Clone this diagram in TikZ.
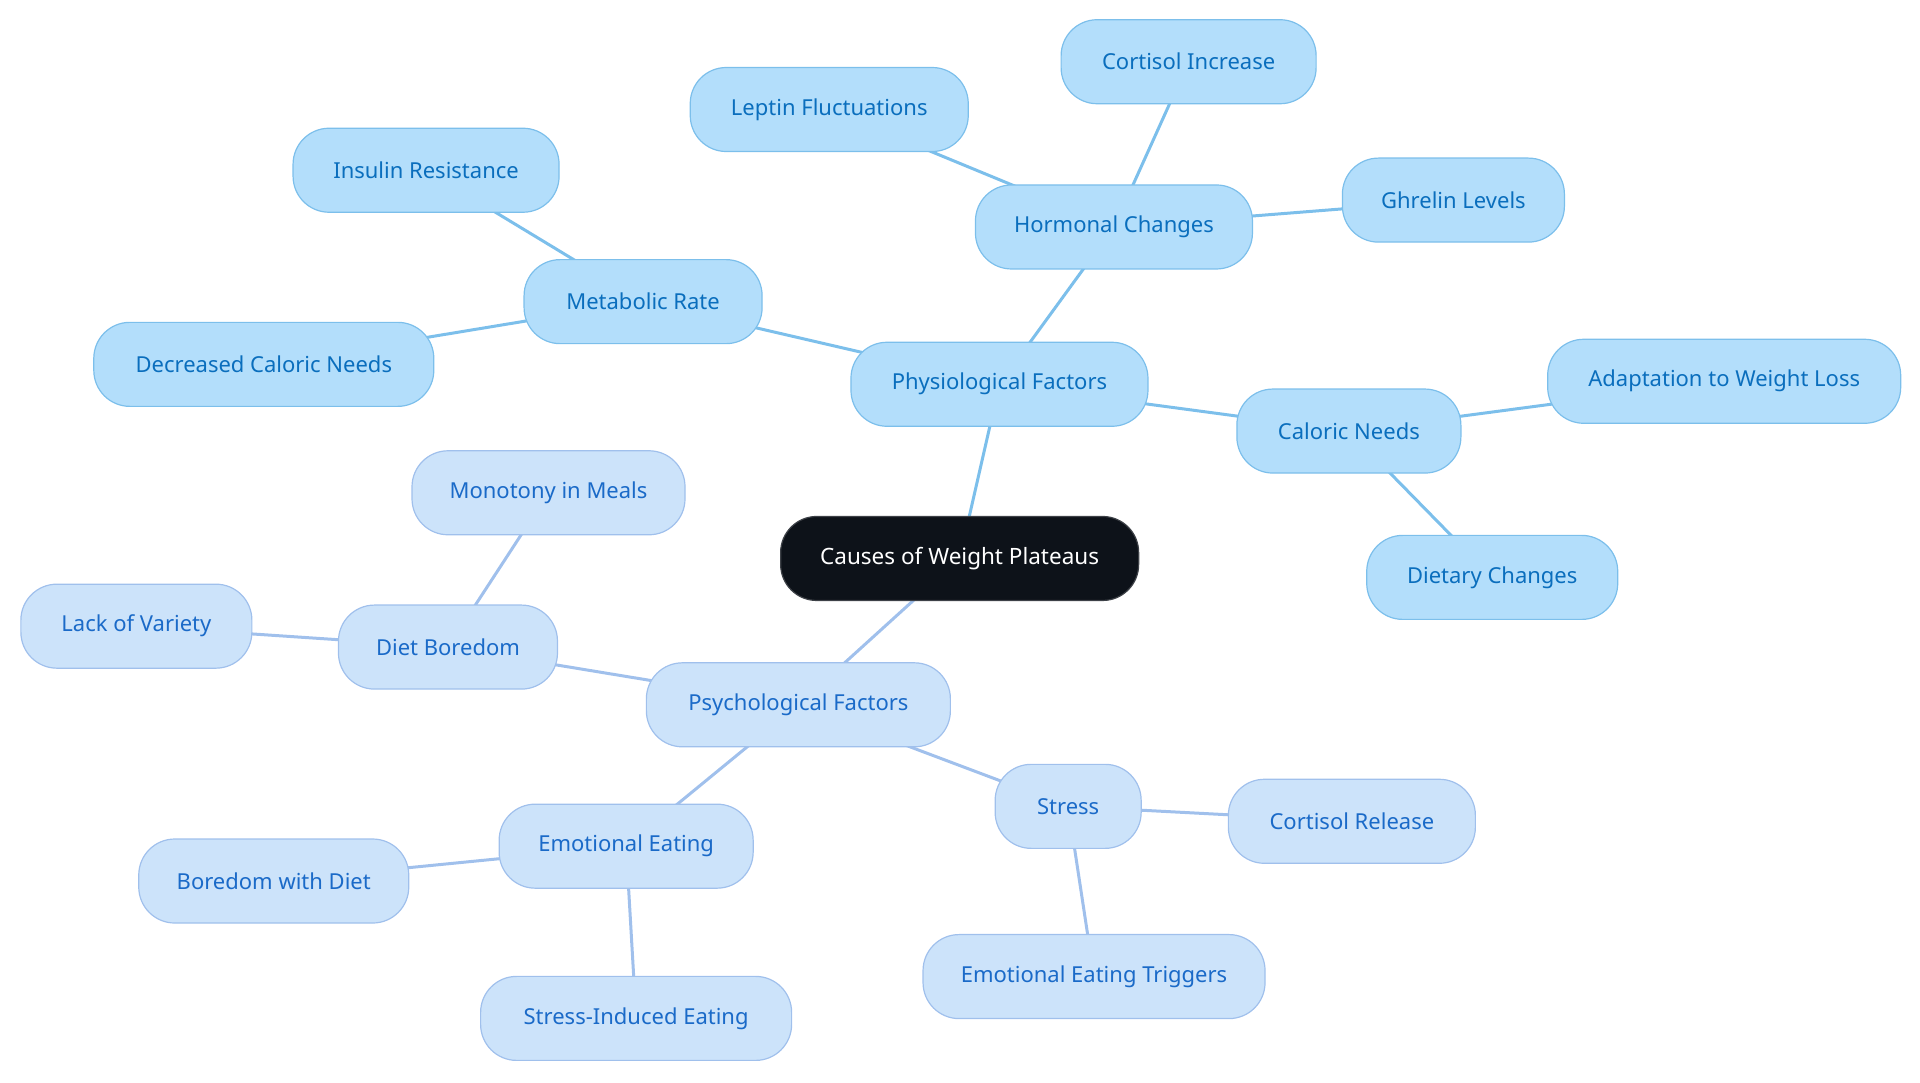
\documentclass[tikz,border=0pt]{standalone}
\usepackage{fontspec}
\setmainfont{Noto Sans}
\usetikzlibrary{backgrounds}
\definecolor{rootfill}{HTML}{0D1219}
\definecolor{phfill}{HTML}{B3DEFB}
\definecolor{phdraw}{HTML}{7CBFEB}
\definecolor{phtext}{HTML}{0A6EBD}
\definecolor{psfill}{HTML}{CCE3FA}
\definecolor{psdraw}{HTML}{A0C0EC}
\definecolor{pstext}{HTML}{1A6AC8}
\tikzset{
  box/.style={rounded corners=36pt, minimum height=84pt, inner xsep=6pt, line width=1.2pt, font=\fontsize{22}{26}\selectfont},
  rootbox/.style={box, fill=rootfill, draw=rootfill!80!white, text=white, font=\fontsize{22.5}{26}\selectfont},
  phbox/.style={box, fill=phfill, draw=phdraw, text=phtext},
  psbox/.style={box, fill=psfill, draw=psdraw, text=pstext},
  phline/.style={draw=phdraw, line width=3pt},
  psline/.style={draw=psdraw, line width=3pt},
}
\begin{document}
\begin{tikzpicture}[x=0.9955pt,y=-0.9955pt]
\useasboundingbox (0,0) rectangle (1928.7,1087.9);
\node[rootbox, minimum width=358pt] (root) at (964,561) {Causes of Weight Plateaus};
% physiological
\node[phbox, minimum width=297pt] (phys) at (1004,386) {Physiological Factors};
\node[phbox, minimum width=277pt] (horm) at (1119,228) {Hormonal Changes};
\node[phbox, minimum width=278pt] (lept) at (833,110) {Leptin Fluctuations};
\node[phbox, minimum width=255pt] (cort) at (1194,62) {Cortisol Increase};
\node[phbox, minimum width=222pt] (ghre) at (1460,201) {Ghrelin Levels};
\node[phbox, minimum width=238pt] (meta) at (646,303) {Metabolic Rate};
\node[phbox, minimum width=266pt] (insu) at (428,171) {Insulin Resistance};
\node[phbox, minimum width=340pt] (decr) at (265,366) {Decreased Caloric Needs};
\node[phbox, minimum width=224pt] (calo) at (1355,433) {Caloric Needs};
\node[phbox, minimum width=353pt] (adap) at (1732,383) {Adaptation to Weight Loss};
\node[phbox, minimum width=251pt] (diet) at (1499,580) {Dietary Changes};
% psychological
\node[psbox, minimum width=304pt] (psyc) at (802,708) {Psychological Factors};
\node[psbox, minimum width=219pt] (dbor) at (450,650) {Diet Boredom};
\node[psbox, minimum width=273pt] (mono) at (551,495) {Monotony in Meals};
\node[psbox, minimum width=231pt] (lack) at (137,629) {Lack of Variety};
\node[psbox, minimum width=254pt] (emot) at (629,850) {Emotional Eating};
\node[psbox, minimum width=270pt] (bwd) at (275,885) {Boredom with Diet};
\node[psbox, minimum width=311pt] (sie) at (639,1023) {Stress-Induced Eating};
\node[psbox, minimum width=146pt] (stre) at (1073,810) {Stress};
\node[psbox, minimum width=247pt] (corr) at (1358,825) {Cortisol Release};
\node[psbox, minimum width=342pt] (eet) at (1099,981) {Emotional Eating Triggers};
\begin{scope}[on background layer]
\draw[phline] (root.center) -- (phys.center);
\draw[phline] (phys.center) -- (horm.center);
\draw[phline] (horm.center) -- (lept.center);
\draw[phline] (horm.center) -- (cort.center);
\draw[phline] (horm.center) -- (ghre.center);
\draw[phline] (phys.center) -- (meta.center);
\draw[phline] (meta.center) -- (insu.center);
\draw[phline] (meta.center) -- (decr.center);
\draw[phline] (phys.center) -- (calo.center);
\draw[phline] (calo.center) -- (adap.center);
\draw[phline] (calo.center) -- (diet.center);
\draw[psline] (root.center) -- (psyc.center);
\draw[psline] (psyc.center) -- (dbor.center);
\draw[psline] (dbor.center) -- (mono.center);
\draw[psline] (dbor.center) -- (lack.center);
\draw[psline] (psyc.center) -- (emot.center);
\draw[psline] (emot.center) -- (bwd.center);
\draw[psline] (emot.center) -- (sie.center);
\draw[psline] (psyc.center) -- (stre.center);
\draw[psline] (stre.center) -- (corr.center);
\draw[psline] (stre.center) -- (eet.center);
\end{scope}
\end{tikzpicture}
\end{document}
